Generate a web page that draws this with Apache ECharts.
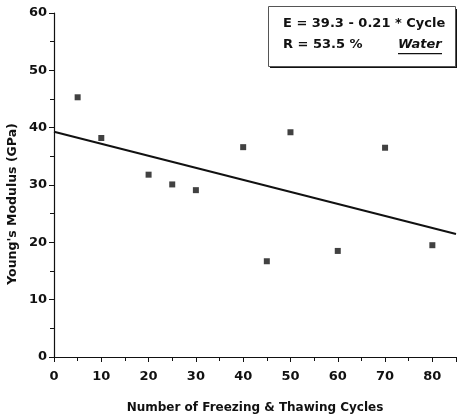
<!DOCTYPE html>
<html><head><meta charset="utf-8">
<script src="https://cdn.jsdelivr.net/npm/echarts@6/dist/echarts.min.js"></script>
<style>html,body{margin:0;padding:0;background:#fff}#c{width:459px;height:420px}</style>
</head><body><div id="c"></div>
<script>
var cycles = [5, 10, 20, 25, 30, 40, 45, 50, 60, 70, 80];
var modulus = [45.3, 38.2, 31.8, 30.1, 29.1, 36.6, 16.7, 39.2, 18.5, 36.5, 19.5];
var fitX = [0, 85];
var fitY = [39.3, 21.45];
var xTicks = [0, 10, 20, 30, 40, 50, 60, 70, 80];
var yTicks = [0, 10, 20, 30, 40, 50, 60];
var eqLine1 = 'E = 39.3 - 0.21 * Cycle';
var eqLine2 = 'R = 53.5 %';
var legendWord = 'Water';
var xTitle = 'Number of Freezing & Thawing Cycles';
var yTitle = "Young's Modulus (GPa)";

var font = '"DejaVu Sans", "Liberation Sans", Arial, sans-serif';
var chart = echarts.init(document.getElementById('c'), null, {renderer: 'canvas'});
chart.setOption({
  animation: false,
  backgroundColor: '#fff',
  grid: {left: 54, right: 0, top: 13, bottom: 63, containLabel: false},
  xAxis: {
    type: 'value', min: 0, max: 85, interval: 10,
    axisLine: {show: true, onZero: false, lineStyle: {color: '#111', width: 1.2}},
    axisTick: {show: true, length: 5, inside: false, lineStyle: {color: '#111'}},
    minorTick: {show: true, splitNumber: 2, length: 4, lineStyle: {color: '#111'}},
    splitLine: {show: false},
    axisLabel: {color: '#111', fontFamily: font, fontWeight: 'bold', fontSize: 13, margin: 13,
      formatter: function (v) { return xTicks.indexOf(v) >= 0 ? String(v) : ''; }},
    name: xTitle, nameLocation: 'middle', nameGap: 45,
    nameTextStyle: {color: '#111', fontFamily: font, fontWeight: 'bold', fontSize: 12}
  },
  yAxis: {
    type: 'value', min: 0, max: 60, interval: 10,
    axisLine: {show: true, onZero: false, lineStyle: {color: '#111', width: 1.2}},
    axisTick: {show: true, length: 5, inside: false, lineStyle: {color: '#111'}},
    minorTick: {show: true, splitNumber: 2, length: 4, lineStyle: {color: '#111'}},
    splitLine: {show: false},
    axisLabel: {color: '#111', fontFamily: font, fontWeight: 'bold', fontSize: 13, margin: 7,
      formatter: function (v) { return yTicks.indexOf(v) >= 0 ? String(v) : ''; }}
  },
  series: [
    {
      type: 'line', data: fitX.map(function (x, i) { return [x, fitY[i]]; }),
      showSymbol: false, symbol: 'none', lineStyle: {color: '#111', width: 2}, z: 2
    },
    {
      type: 'scatter', data: cycles.map(function (x, i) { return [x, modulus[i]]; }),
      symbol: 'rect', symbolSize: 6, itemStyle: {color: '#111'}, z: 3
    }
  ],
  graphic: [
    {type: 'text', x: 13, y: 204, rotation: Math.PI / 2,
      style: {text: yTitle, fill: '#111', font: 'bold 12.5px ' + font, align: 'center', verticalAlign: 'middle'}, z: 12},
    {type: 'rect', left: 270, top: 9, shape: {width: 187, height: 59}, style: {fill: '#111'}, z: 10},
    {type: 'rect', left: 268, top: 6, shape: {width: 187, height: 60}, style: {fill: '#fff', stroke: '#555', lineWidth: 1}, z: 11},
    {type: 'text', left: 283, top: 17, style: {text: eqLine1, fill: '#111', font: 'bold 13px ' + font}, z: 12},
    {type: 'text', left: 283, top: 38, style: {text: eqLine2, fill: '#111', font: 'bold 13px ' + font}, z: 12},
    {type: 'text', left: 398, top: 38, style: {text: legendWord, fill: '#111', font: 'italic bold 13px ' + font}, z: 12},
    {type: 'rect', left: 398, top: 53, shape: {width: 44, height: 1.2}, style: {fill: '#111'}, z: 12}
  ]
});
</script></body></html>
